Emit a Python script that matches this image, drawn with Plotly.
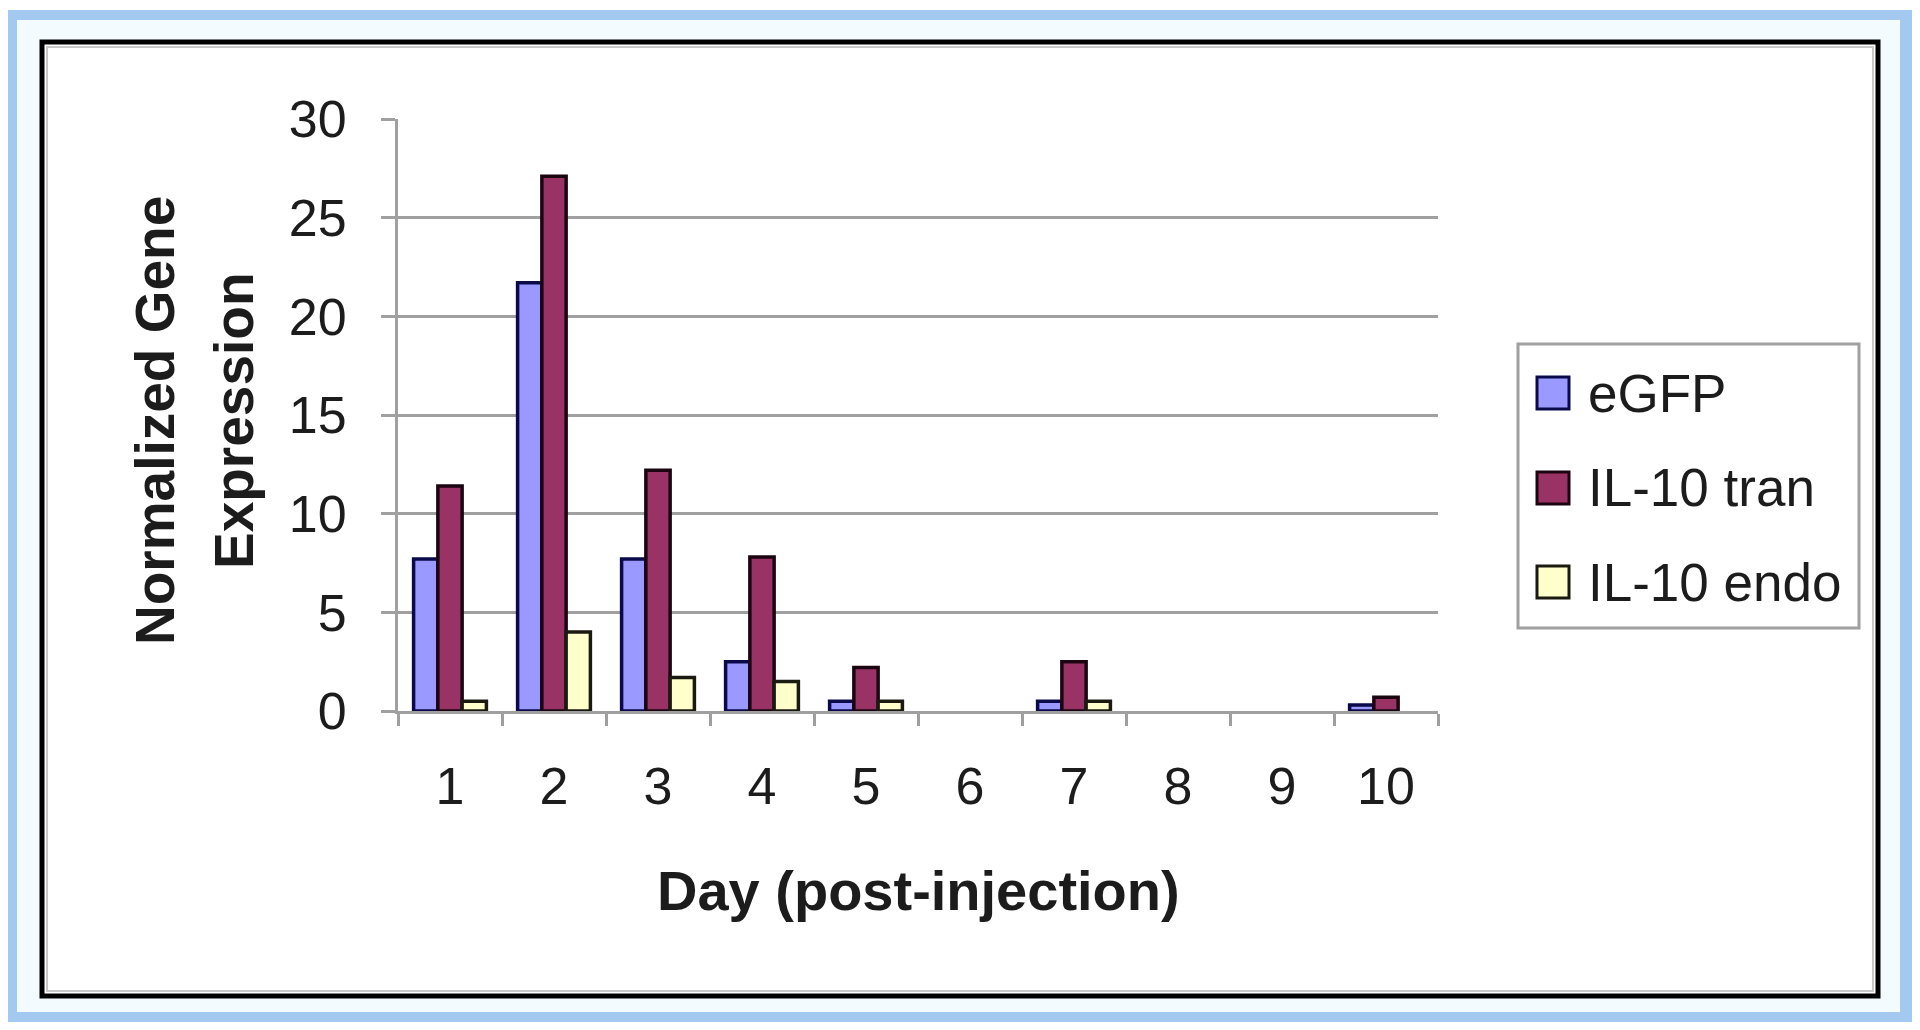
import plotly.graph_objects as go

days = ["1", "2", "3", "4", "5", "6", "7", "8", "9", "10"]
series_names = ["eGFP", "IL-10 tran", "IL-10 endo"]
egfp = [7.7, 21.7, 7.7, 2.5, 0.5, 0, 0.5, 0, 0, 0.3]
il10_tran = [11.4, 27.1, 12.2, 7.8, 2.2, 0, 2.5, 0, 0, 0.7]
il10_endo = [0.5, 4.0, 1.7, 1.5, 0.5, 0, 0.5, 0, 0, 0]
y_ticks = [0, 5, 10, 15, 20, 25, 30]
x_title = "Day (post-injection)"
y_title_lines = ["Normalized Gene", "Expression"]

fills = ["#9999ff", "#993366", "#ffffcc"]
edges = ["#0a0a4a", "#1a0510", "#1a1a10"]

# page has an 8px body margin; work in page pixels and convert
OFF = 8
W, H = 1904, 1014
L, R, T, B = 398, 1438, 119, 711   # plot area in page pixels
pw, ph = R - L, B - T


def px(x):
    return (x - L) / pw


def py(y):
    return (B - y) / ph


FONT = "Liberation Sans, Arial, sans-serif"
TXT = "#1c1c1c"
GRID = "#a0a0a0"

fig = go.Figure()
for name, vals, fc, ec in zip(series_names, [egfp, il10_tran, il10_endo], fills, edges):
    fig.add_trace(go.Bar(
        x=days, y=vals, name=name,
        marker=dict(color=fc, line=dict(color=ec, width=[3.5 if v > 0 else 0 for v in vals])),
        showlegend=False,
    ))

shapes = []
# outer blue frame
shapes.append(dict(type="rect", xref="paper", yref="paper", layer="below",
                   x0=px(8), x1=px(1912), y0=py(10), y1=py(1022),
                   fillcolor="#a3c9f0", line=dict(width=0)))
shapes.append(dict(type="rect", xref="paper", yref="paper", layer="below",
                   x0=px(17), x1=px(1900), y0=py(20), y1=py(1012),
                   fillcolor="#f4fbff", line=dict(width=0)))
# black frame with white interior
shapes.append(dict(type="rect", xref="paper", yref="paper", layer="below",
                   x0=px(42), x1=px(1878), y0=py(42), y1=py(996),
                   fillcolor="#ffffff", line=dict(color="#000000", width=5)))
shapes.append(dict(type="rect", xref="paper", yref="paper", layer="below",
                   x0=px(47), x1=px(1873), y0=py(47), y1=py(991),
                   fillcolor="rgba(0,0,0,0)", line=dict(color="#c8c8c8", width=2)))
# legend box
shapes.append(dict(type="rect", xref="paper", yref="paper", layer="above",
                   x0=px(1518), x1=px(1859), y0=py(344), y1=py(628),
                   fillcolor="#ffffff", line=dict(color="#a0a0a0", width=3)))

annotations = []
leg_y = [393, 488, 582]
for name, fc, ec, yy in zip(series_names, fills, edges, leg_y):
    shapes.append(dict(type="rect", xref="paper", yref="paper", layer="above",
                       x0=px(1537), x1=px(1569), y0=py(yy - 16), y1=py(yy + 16),
                       fillcolor=fc, line=dict(color=ec, width=3)))
    annotations.append(dict(xref="paper", yref="paper", x=px(1586), y=py(yy),
                            xanchor="left", yanchor="middle", showarrow=False,
                            text=name, font=dict(family=FONT, size=53, color=TXT)))

annotations.append(dict(xref="paper", yref="paper", x=0.5, y=py(891),
                        xanchor="center", yanchor="middle", showarrow=False,
                        text="<b>" + x_title + "</b>",
                        font=dict(family=FONT, size=56, color=TXT)))
for line, cx in zip(y_title_lines, [155, 234]):
    annotations.append(dict(xref="paper", yref="paper", x=px(cx), y=py(421),
                            xanchor="center", yanchor="middle", showarrow=False,
                            textangle=-90, text="<b>" + line + "</b>",
                            font=dict(family=FONT, size=55, color=TXT)))

fig.update_layout(
    width=W, height=H, autosize=False,
    margin=dict(l=L - OFF, r=(W + OFF) - R, t=T - OFF, b=(H + OFF) - B, pad=0),
    paper_bgcolor="#ffffff", plot_bgcolor="rgba(0,0,0,0)",
    barmode="group", bargap=0.3, bargroupgap=0,
    shapes=shapes, annotations=annotations,
    showlegend=False,
    font=dict(family=FONT, color=TXT),
)
fig.update_xaxes(
    type="category", categoryorder="array", categoryarray=days,
    tickson="boundaries", ticks="outside", ticklen=12, tickwidth=3, tickcolor=GRID,
    showline=True, linecolor=GRID, linewidth=3, showgrid=False, zeroline=False,
    tickfont=dict(family=FONT, size=52, color=TXT), ticklabelstandoff=28,
)
fig.update_yaxes(
    range=[0, 30], tickvals=y_ticks, ticktext=[str(v) for v in y_ticks],
    ticks="outside", ticklen=14, tickwidth=3, tickcolor=GRID,
    showline=True, linecolor=GRID, linewidth=3,
    showgrid=True, gridcolor=GRID, gridwidth=3, zeroline=False,
    tickfont=dict(family=FONT, size=52, color=TXT), ticklabelstandoff=24,
)

fig.write_html("out.html")
